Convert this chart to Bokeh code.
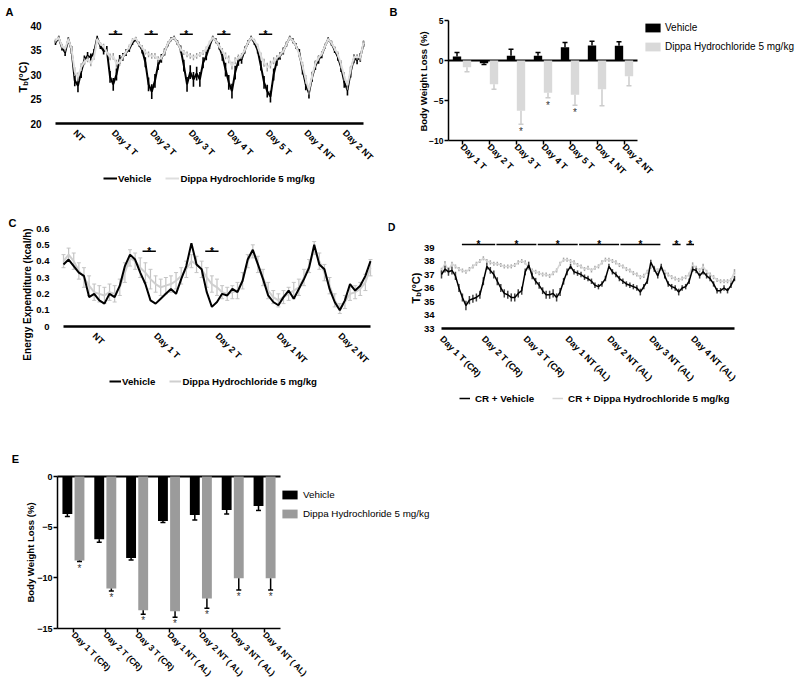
import math
from bokeh.plotting import figure
from bokeh.models import (Range1d, FixedTicker, Label, Legend, LegendItem, ColumnDataSource)
from bokeh.transform import dodge
from bokeh.layouts import column, row
from bokeh.embed import file_html
from bokeh.resources import INLINE
from bokeh.core.properties import value

FONT = "Liberation Sans"

# ---------------- Panel A data (body temperature, 2 h samples) ----------------
A_HOURS = list(range(0, 193, 2))
A_VEH = [36.5, 37.5, 35.5, 34.5, 37.2, 35.0, 28.8, 27.7, 30.5, 33.0, 33.8, 33.5,
         34.5, 37.5, 35.8, 34.8, 35.0, 29.5, 28.0, 30.0, 33.1, 33.6, 34.5, 35.2,
         36.5, 37.2, 36.2, 35.0, 32.5, 28.0, 26.5, 28.7, 32.0, 33.3, 34.6, 36.2,
         37.2, 37.5, 36.5, 35.2, 31.8, 28.0, 30.5, 29.0, 30.2, 29.0, 32.4, 33.8,
         35.8, 37.5, 36.9, 35.8, 33.8, 31.0, 28.4, 26.6, 30.4, 32.8, 33.1, 35.0,
         36.5, 37.5, 36.5, 35.0, 31.8, 28.4, 26.6, 25.5, 30.0, 32.8, 33.8, 34.8,
         36.2, 37.5, 36.9, 35.8, 34.4, 31.0, 28.0, 26.2, 29.5, 31.8, 33.0, 34.0,
         35.8, 37.2, 36.4, 35.0, 33.6, 31.5, 28.5, 26.8, 30.5, 33.2, 33.0, 33.5,
         36.2]
A_VEH_SEM = [0.5, 0.4, 0.6, 0.7, 0.4, 0.8, 1.2, 1.3, 1.2, 0.9, 0.8, 0.8,
             0.7, 0.4, 0.6, 0.7, 0.8, 1.2, 1.3, 1.2, 0.9, 0.8, 0.7, 0.6,
             0.5, 0.4, 0.5, 0.7, 1.0, 1.4, 1.5, 1.4, 1.1, 0.9, 0.7, 0.5,
             0.4, 0.4, 0.5, 0.7, 1.2, 1.5, 1.4, 1.5, 1.4, 1.5, 1.1, 0.9,
             0.6, 0.4, 0.5, 0.7, 1.0, 1.4, 1.5, 1.5, 1.4, 1.0, 0.9, 0.7,
             0.5, 0.4, 0.5, 0.7, 1.0, 1.3, 1.3, 1.2, 1.2, 1.0, 0.8, 0.7,
             0.5, 0.4, 0.5, 0.6, 0.8, 1.0, 1.2, 1.1, 1.0, 0.9, 0.8, 0.7,
             0.5, 0.4, 0.5, 0.6, 0.8, 1.0, 1.2, 1.1, 1.1, 0.9, 0.9, 0.9,
             0.6]
A_DIP = [36.9, 37.5, 35.8, 35.2, 37.2, 35.2, 30.6, 29.5, 31.5, 32.6, 33.1, 32.3,
         33.5, 37.2, 36.2, 35.8, 34.5, 33.6, 33.7, 32.2, 32.5, 33.6, 34.6, 35.6,
         37.0, 37.4, 36.2, 35.5, 34.6, 34.1, 33.8, 33.8, 33.1, 33.4, 34.6, 36.3,
         37.2, 37.5, 36.5, 35.2, 34.5, 34.1, 33.8, 33.5, 33.8, 34.1, 34.5, 35.2,
         36.5, 37.5, 36.9, 35.8, 34.8, 33.8, 33.1, 31.8, 32.8, 33.5, 33.8, 35.0,
         36.5, 37.5, 36.9, 35.8, 33.8, 32.4, 31.5, 32.0, 32.8, 33.4, 34.0, 34.8,
         36.2, 37.5, 36.9, 35.8, 34.0, 31.8, 29.0, 26.8, 29.8, 32.2, 33.4, 34.2,
         35.8, 37.2, 36.5, 35.3, 34.1, 32.1, 29.6, 27.8, 31.0, 33.5, 33.6, 33.4,
         36.5]
A_DIP_SEM = [0.4, 0.3, 0.5, 0.5, 0.3, 0.6, 0.9, 0.9, 0.8, 0.7, 0.6, 0.6,
             0.5, 0.3, 0.4, 0.5, 0.6, 0.7, 0.7, 0.8, 0.7, 0.6, 0.5, 0.5,
             0.4, 0.3, 0.4, 0.5, 0.5, 0.6, 0.6, 0.6, 0.6, 0.5, 0.5, 0.4,
             0.3, 0.3, 0.4, 0.5, 0.5, 0.6, 0.6, 0.6, 0.6, 0.5, 0.5, 0.5,
             0.4, 0.3, 0.4, 0.5, 0.6, 0.7, 0.8, 0.8, 0.7, 0.6, 0.6, 0.5,
             0.4, 0.3, 0.4, 0.5, 0.7, 0.8, 0.9, 0.8, 0.7, 0.6, 0.6, 0.5,
             0.4, 0.3, 0.4, 0.5, 0.6, 0.8, 0.9, 0.9, 0.8, 0.7, 0.6, 0.5,
             0.4, 0.3, 0.4, 0.5, 0.6, 0.8, 0.9, 0.9, 0.8, 0.7, 0.6, 0.6,
             0.5]
A_TICKS = [12, 36, 60, 84, 108, 132, 156, 180]
A_LABELS = ["NT", "Day 1 T", "Day 2 T", "Day 3 T", "Day 4 T", "Day 5 T", "Day 1 NT", "Day 2 NT"]
A_YTICKS = [20, 25, 30, 35, 40]
A_SIG_START = [33.2, 55.5, 77.5, 100.8, 126.8]
A_SIG_END = [41.6, 63.8, 85.6, 109.1, 135.1]
A_SIG_Y = [38.2, 38.2, 38.2, 38.2, 38.2]

# ---------------- Panel B data (body weight loss) ----------------
B_CATS = ["Day 1 T", "Day 2 T", "Day 3 T", "Day 4 T", "Day 5 T", "Day 1 NT", "Day 2 NT"]
B_VEH = [0.5, -0.33, 0.58, 0.58, 1.67, 1.88, 1.83]
B_VEH_ERR = [1.0, -0.5, 1.42, 1.0, 2.25, 2.42, 2.33]
B_DIP = [-0.83, -2.96, -6.29, -4.04, -4.29, -3.58, -1.96]
B_DIP_ERR = [-1.42, -3.58, -7.96, -4.67, -5.58, -5.67, -3.17]
B_SIG = ["Day 3 T", "Day 4 T", "Day 5 T"]
B_YTICKS = [-10, -5, 0, 5]

# ---------------- Panel C data (energy expenditure, 2 h samples) ----------------
C_HOURS = list(range(0, 121, 2))
C_VEH = [0.38, 0.41, 0.37, 0.33, 0.31, 0.18, 0.20, 0.16, 0.14, 0.20, 0.18, 0.25,
         0.37, 0.44, 0.41, 0.33, 0.26, 0.16, 0.14, 0.17, 0.20, 0.23, 0.20, 0.29,
         0.37, 0.51, 0.38, 0.35, 0.21, 0.12, 0.15, 0.20, 0.19, 0.23, 0.21, 0.28,
         0.41, 0.47, 0.38, 0.29, 0.19, 0.15, 0.13, 0.18, 0.22, 0.17, 0.23, 0.29,
         0.36, 0.50, 0.38, 0.35, 0.23, 0.15, 0.10, 0.16, 0.26, 0.22, 0.25, 0.31,
         0.40]
C_DIP = [0.40, 0.44, 0.40, 0.34, 0.30, 0.25, 0.21, 0.20, 0.19, 0.21, 0.20, 0.24,
         0.33, 0.42, 0.40, 0.36, 0.33, 0.29, 0.26, 0.24, 0.25, 0.26, 0.28, 0.31,
         0.35, 0.40, 0.38, 0.35, 0.30, 0.26, 0.24, 0.21, 0.20, 0.21, 0.22, 0.28,
         0.40, 0.46, 0.38, 0.30, 0.22, 0.18, 0.16, 0.18, 0.20, 0.22, 0.24, 0.30,
         0.37, 0.48, 0.40, 0.33, 0.25, 0.16, 0.11, 0.15, 0.20, 0.21, 0.23, 0.27,
         0.36]
C_DIP_SEM = [0.04, 0.04, 0.05, 0.05, 0.06, 0.06, 0.05, 0.05, 0.05, 0.05, 0.05, 0.05,
             0.06, 0.05, 0.05, 0.06, 0.06, 0.06, 0.05, 0.05, 0.05, 0.05, 0.05, 0.05,
             0.05, 0.04, 0.05, 0.05, 0.06, 0.05, 0.05, 0.04, 0.04, 0.04, 0.05, 0.05,
             0.04, 0.04, 0.05, 0.05, 0.05, 0.04, 0.04, 0.04, 0.04, 0.05, 0.05, 0.05,
             0.04, 0.04, 0.05, 0.05, 0.05, 0.04, 0.03, 0.04, 0.04, 0.04, 0.04, 0.05,
             0.05]
C_TICKS = [12, 36, 60, 84, 108]
C_LABELS = ["NT", "Day 1 T", "Day 2 T", "Day 1 NT", "Day 2 NT"]
C_YTICKS = [0, 0.1, 0.2, 0.3, 0.4, 0.5, 0.6]
C_SIG_START = [30.9, 55.4]
C_SIG_END = [36.1, 60.6]
C_SIG_Y = [0.46, 0.46]

# ---------------- Panel D data (body temperature under CR, 2 h samples) ----------------
D_HOURS = list(range(0, 169, 2))
D_VEH = [37.0, 37.4, 37.2, 37.3, 36.9, 36.0, 35.3, 34.7, 35.1, 35.2, 35.3, 35.5,
         36.5, 37.6, 37.3, 37.0, 36.5, 36.0, 35.6, 35.5, 35.3, 35.3, 35.6, 35.8,
         37.2, 37.7, 36.9, 36.5, 36.2, 35.8, 35.5, 35.5, 35.6, 35.3, 35.7, 36.5,
         37.2, 37.6, 37.2, 37.1, 37.0, 36.8, 36.7, 36.5, 36.2, 36.1, 36.3, 36.7,
         37.6, 37.2, 37.0, 36.7, 36.5, 36.3, 36.2, 36.1, 36.0, 35.7, 36.1, 36.5,
         37.9, 37.4, 36.9, 37.6, 36.9, 36.3, 36.1, 36.0, 35.7, 36.0, 36.1, 36.5,
         37.4, 37.3, 36.9, 37.2, 36.9, 36.7, 36.3, 35.8, 35.8, 36.0, 35.8, 36.2,
         36.7]
D_VEH_SEM = [0.30, 0.25, 0.30, 0.30, 0.30, 0.30, 0.30, 0.35, 0.30, 0.30, 0.30, 0.30,
             0.30, 0.25, 0.25, 0.30, 0.30, 0.30, 0.30, 0.30, 0.30, 0.30, 0.30, 0.30,
             0.25, 0.25, 0.25, 0.25, 0.25, 0.25, 0.30, 0.30, 0.30, 0.30, 0.30, 0.25,
             0.25, 0.20, 0.20, 0.20, 0.20, 0.20, 0.20, 0.20, 0.20, 0.20, 0.20, 0.20,
             0.20, 0.20, 0.20, 0.20, 0.20, 0.20, 0.20, 0.20, 0.20, 0.25, 0.20, 0.20,
             0.20, 0.20, 0.20, 0.20, 0.20, 0.20, 0.20, 0.20, 0.25, 0.20, 0.20, 0.20,
             0.20, 0.20, 0.20, 0.20, 0.20, 0.20, 0.20, 0.20, 0.20, 0.20, 0.20, 0.20,
             0.20]
D_DIP = [37.3, 37.8, 37.3, 37.8, 37.6, 37.4, 37.3, 37.2, 37.4, 37.6, 37.8, 38.0,
         38.2, 38.0, 37.9, 37.8, 37.8, 37.7, 37.6, 37.6, 37.6, 37.7, 37.9, 38.0,
         37.9, 37.5, 37.3, 37.2, 37.1, 37.0, 37.0, 36.9, 37.1, 37.3, 37.8, 38.1,
         38.1, 38.0, 37.9, 37.7, 37.6, 37.4, 37.5, 37.3, 37.5, 37.6, 37.9, 38.1,
         38.1, 38.0, 37.9, 37.7, 37.6, 37.4, 37.3, 37.1, 37.0, 36.8, 36.9, 37.2,
         37.6, 37.5, 37.3, 37.5, 37.2, 37.0, 36.8, 36.7, 36.6, 36.7, 36.8, 37.0,
         37.7, 37.5, 37.3, 37.6, 37.2, 37.0, 36.8, 36.6, 36.5, 36.5, 36.5, 36.6,
         37.2]
D_DIP_SEM = [0.20, 0.20, 0.20, 0.15, 0.15, 0.15, 0.15, 0.15, 0.15, 0.15, 0.15, 0.15,
             0.15, 0.15, 0.15, 0.15, 0.15, 0.15, 0.15, 0.15, 0.15, 0.15, 0.15, 0.15,
             0.15, 0.15, 0.15, 0.15, 0.15, 0.15, 0.15, 0.15, 0.15, 0.15, 0.15, 0.15,
             0.15, 0.15, 0.15, 0.15, 0.15, 0.15, 0.15, 0.15, 0.15, 0.15, 0.15, 0.15,
             0.15, 0.15, 0.15, 0.15, 0.15, 0.15, 0.15, 0.15, 0.15, 0.15, 0.15, 0.15,
             0.20, 0.15, 0.15, 0.20, 0.15, 0.15, 0.15, 0.15, 0.15, 0.15, 0.15, 0.15,
             0.20, 0.15, 0.15, 0.20, 0.15, 0.15, 0.15, 0.15, 0.15, 0.15, 0.15, 0.15,
             0.20]
D_TICKS = [0, 24, 48, 72, 96, 120, 144]
D_LABELS = ["Day 1 T (CR)", "Day 2 T (CR)", "Day 3 T (CR)", "Day 1 NT (AL)",
            "Day 2 NT (AL)", "Day 3 NT (AL)", "Day 4 NT (AL)"]
D_YTICKS = [33, 34, 35, 36, 37, 38, 39]
D_SIG_START = [11.7, 31.5, 55.2, 78.9, 102.6, 132.4, 140.4]
D_SIG_END = [30.8, 54.4, 78.1, 101.8, 125.5, 137.1, 144.8]
D_SIG_Y = [39.22, 39.22, 39.22, 39.22, 39.22, 39.22, 39.22]

# ---------------- Panel E data (body weight loss under CR) ----------------
E_CATS = ["Day 1 T (CR)", "Day 2 T (CR)", "Day 3 T (CR)", "Day 1 NT ( AL)",
          "Day 2 NT ( AL)", "Day 3 NT ( AL)", "Day 4 NT ( AL)"]
E_VEH = [-3.7, -6.2, -8.05, -4.4, -3.8, -3.3, -2.9]
E_VEH_ERR = [-3.95, -6.5, -8.25, -4.55, -4.3, -3.7, -3.35]
E_DIP = [-8.3, -11.05, -13.2, -13.3, -12.05, -10.05, -10.05]
E_DIP_ERR = [-8.4, -11.3, -13.6, -13.9, -13.0, -11.2, -11.2]
E_YTICKS = [-15, -10, -5, 0]

for a, b in [(A_HOURS, A_VEH), (A_HOURS, A_VEH_SEM), (A_HOURS, A_DIP), (A_HOURS, A_DIP_SEM),
             (C_HOURS, C_VEH), (C_HOURS, C_DIP), (C_HOURS, C_DIP_SEM),
             (D_HOURS, D_VEH), (D_HOURS, D_VEH_SEM), (D_HOURS, D_DIP), (D_HOURS, D_DIP_SEM)]:
    assert len(a) == len(b), (len(a), len(b))

BOX = {}


# ---------------- helpers ----------------
def span_range(d0, d1, p0, p1, f0, f1):
    """Range whose value d0 falls on page pixel p0 and d1 on p1, for a frame running f0..f1."""
    k = (d1 - d0) / (p1 - p0)
    return Range1d(d0 - (p0 - f0) * k, d1 + (f1 - p1) * k)


def make_fig(box, xmap, ymap):
    fx0, fy0, fx1, fy1 = box
    p = figure(width=fx1 - fx0, height=fy1 - fy0,
               x_range=span_range(*xmap, fx0, fx1),
               y_range=span_range(*ymap, fy1, fy0),
               min_border=0, output_backend="svg", toolbar_location=None, title=None)
    p.grid.visible = False
    p.outline_line_color = None
    p.background_fill_color = "white"
    p.border_fill_color = "white"
    for ax in p.axis:
        ax.major_label_text_font = FONT
        ax.major_label_text_font_style = "bold"
        ax.major_label_text_color = "black"
        ax.minor_tick_line_color = None
    BOX[p.id] = box
    return p


def note(p, xi, yi, text, size="11px", bold=True, angle=0.0, align="center", baseline="middle"):
    fx0, fy0, fx1, fy1 = BOX[p.id]
    p.add_layout(Label(x=xi - fx0, y=fy1 - yi, x_units="screen", y_units="screen",
                       text=text, angle=angle, text_align=align, text_baseline=baseline,
                       text_font=FONT, text_font_size=size,
                       text_font_style="bold" if bold else "normal", text_color="black"))


def add_legend(p, items, left_px, bottom_px, size, bold, gw, gh, standoff, spacing, orientation):
    fx0, fy0, fx1, fy1 = BOX[p.id]
    lg = Legend(items=[LegendItem(label=value(t), renderers=[r]) for t, r in items],
                location=(left_px - fx0, fy1 - bottom_px), orientation=orientation,
                padding=0, margin=0, spacing=spacing, label_standoff=standoff,
                glyph_width=gw, glyph_height=gh, label_height=gh, label_width=10,
                label_text_font=FONT, label_text_font_size=size,
                label_text_font_style="bold" if bold else "normal",
                label_text_color="black",
                border_line_color=None, background_fill_alpha=0)
    p.add_layout(lg)


def ts_axes(p, ticks, labels, yticks, xbounds, ybounds, xsize="9px", ysize="10px",
            ystandoff=6, xstandoff=2):
    xa, ya = p.xaxis[0], p.yaxis[0]
    xa.fixed_location = ybounds[0]
    xa.bounds = xbounds
    xa.ticker = FixedTicker(ticks=ticks)
    xa.major_label_overrides = dict(zip(ticks, labels))
    xa.major_label_orientation = -math.pi / 4
    xa.axis_line_width = 2.5
    xa.axis_line_color = "black"
    xa.major_tick_line_color = None
    xa.major_label_text_font_size = xsize
    xa.major_label_standoff = xstandoff
    ya.fixed_location = xbounds[0]
    ya.bounds = ybounds
    ya.ticker = FixedTicker(ticks=yticks)
    ya.axis_line_color = None
    ya.major_tick_line_color = None
    ya.major_label_text_font_size = ysize
    ya.major_label_standoff = ystandoff


def bar_axes(p, ncat, labels, yticks, ybounds, xsize, ysize):
    xa, ya = p.xaxis[0], p.yaxis[0]
    xb = (0.5, ncat + 0.5)
    xa.fixed_location = ybounds[0]
    xa.bounds = xb
    xa.ticker = FixedTicker(ticks=list(range(1, ncat + 1)))
    xa.major_label_overrides = dict(zip(range(1, ncat + 1), labels))
    xa.major_label_orientation = -math.pi / 4
    xa.major_label_text_font_size = xsize
    xa.major_label_standoff = 1
    ya.fixed_location = xb[0]
    ya.bounds = ybounds
    ya.ticker = FixedTicker(ticks=yticks)
    ya.major_label_text_font_size = ysize
    ya.major_label_standoff = 1
    for ax in (xa, ya):
        ax.axis_line_width = 1.5
        ax.axis_line_color = "black"
        ax.major_tick_line_width = 1.5
        ax.major_tick_line_color = "black"
        ax.major_tick_out = 4
        ax.major_tick_in = 0
    # heavy zero line across the category band
    p.segment(x0=[xb[0]], x1=[xb[1]], y0=[0], y1=[0], line_color="black", line_width=2)


def sig_marks(p, starts, ends, ys):
    p.segment(x0=starts, x1=ends, y0=ys, y1=ys, line_color="black", line_width=1.5)
    mids = [(s + e) / 2 for s, e in zip(starts, ends)]
    p.text(x=mids, y=ys, text=value("*"), text_font=value(FONT),
           text_font_size=value("10px"), text_font_style="bold",
           text_align="center", text_baseline="middle", text_color="black")


def band(vals, sems, sign):
    return [v + sign * s for v, s in zip(vals, sems)]


# ---------------- Panel A ----------------
pA = make_fig((0, 0, 388, 200), (0, 192, 55, 363), (20, 40, 123, 25))
ts_axes(pA, A_TICKS, A_LABELS, A_YTICKS, (0, 192), (20, 40), ystandoff=8)
pA.segment(x0=A_HOURS, x1=A_HOURS, y0=band(A_VEH, A_VEH_SEM, -1), y1=band(A_VEH, A_VEH_SEM, 1),
           line_color="black", line_width=1.6)
rA_veh = pA.line(A_HOURS, A_VEH, line_color="black", line_width=2)
pA.segment(x0=A_HOURS, x1=A_HOURS, y0=band(A_DIP, A_DIP_SEM, -1), y1=band(A_DIP, A_DIP_SEM, 1),
           line_color="#9a9a9a", line_width=1.4)
rA_dip = pA.line(A_HOURS, A_DIP, line_color="#dedede", line_width=2)
sig_marks(pA, A_SIG_START, A_SIG_END, A_SIG_Y)
note(pA, 9, 11, "A")
note(pA, 22, 92, "T", angle=math.pi / 2, align="left")
note(pA, 25, 85.3, "b", size="7.5px", angle=math.pi / 2, align="left")
note(pA, 22, 80.8, "(°C)", angle=math.pi / 2, align="left")
add_legend(pA, [("Vehicle", rA_veh), ("Dippa Hydrochloride 5 mg/kg", rA_dip)],
           103, 184, "9.7px", True, 14, 12, 1, 14, "horizontal")

# ---------------- Panel B ----------------
nB = len(B_CATS)
pB = make_fig((388, 0, 800, 200), (0.5, nB + 0.5, 448, 637), (-10, 5, 140, 20))
bar_axes(pB, nB, B_CATS, B_YTICKS, (-10, 5), "9px", "8.5px")
srcB = ColumnDataSource(dict(x=list(range(1, nB + 1)), veh=B_VEH, veh_err=B_VEH_ERR,
                             dip=B_DIP, dip_err=B_DIP_ERR))
xv = dodge("x", -0.185)
xd = dodge("x", 0.185)
rB_veh = pB.vbar(x=xv, top="veh", bottom=0, width=0.31, source=srcB, fill_color="black", line_color=None)
rB_dip = pB.vbar(x=xd, top="dip", bottom=0, width=0.31, source=srcB, fill_color="#d9d9d9", line_color=None)
pB.segment(x0=xv, x1=xv, y0="veh", y1="veh_err", source=srcB, line_color="black", line_width=1.5)
pB.scatter(x=xv, y="veh_err", marker="dash", size=5, source=srcB, line_color="black", line_width=1.5)
pB.segment(x0=xd, x1=xd, y0="dip", y1="dip_err", source=srcB, line_color="#cccccc", line_width=1.5)
pB.scatter(x=xd, y="dip_err", marker="dash", size=5, source=srcB, line_color="#cccccc", line_width=1.5)
srcBs = ColumnDataSource(dict(x=[B_CATS.index(c) + 1 for c in B_SIG],
                              y=[B_DIP_ERR[B_CATS.index(c)] for c in B_SIG]))
pB.text(x=dodge("x", 0.185), y="y", source=srcBs, text=value("*"),
        text_font=value(FONT), text_font_size=value("10px"), text_align="center",
        text_baseline="top", y_offset=2, text_color="#333333")
note(pB, 393, 11, "B")
note(pB, 423, 81, "Body Weight Loss (%)", size="9.5px", angle=math.pi / 2)
add_legend(pB, [("Vehicle", rB_veh), ("Dippa Hydrochloride 5 mg/kg", rB_dip)],
           643, 52, "10px", False, 19, 11, 3, 8, "vertical")

# ---------------- Panel C ----------------
pC = make_fig((0, 200, 388, 410), (0, 120, 63, 370), (0, 0.6, 326, 228))
ts_axes(pC, C_TICKS, C_LABELS, C_YTICKS, (0, 120), (0, 0.6), ysize="9.5px", ystandoff=8)
pC.yaxis[0].major_label_overrides = {0: "0"}
lo = band(C_DIP, C_DIP_SEM, -1)
hi = band(C_DIP, C_DIP_SEM, 1)
pC.segment(x0=C_HOURS, x1=C_HOURS, y0=lo, y1=hi, line_color="#c4c4c4", line_width=1.2)
pC.scatter(x=C_HOURS, y=lo, marker="dash", size=4, line_color="#c4c4c4", line_width=1)
pC.scatter(x=C_HOURS, y=hi, marker="dash", size=4, line_color="#c4c4c4", line_width=1)
rC_dip = pC.line(C_HOURS, C_DIP, line_color="#cfcfcf", line_width=2)
rC_veh = pC.line(C_HOURS, C_VEH, line_color="black", line_width=2)
sig_marks(pC, C_SIG_START, C_SIG_END, C_SIG_Y)
note(pC, 12, 222, "C")
note(pC, 27, 294, "Energy Expenditure (kcal/h)", size="10px", angle=math.pi / 2)
add_legend(pC, [("Vehicle", rC_veh), ("Dippa Hydrochloride 5 mg/kg", rC_dip)],
           109, 387, "9.7px", True, 12, 12, 1, 14, "horizontal")

# ---------------- Panel D ----------------
pD = make_fig((388, 200, 800, 410), (0, 168, 441, 734), (33, 39, 328, 247))
ts_axes(pD, D_TICKS, D_LABELS, D_YTICKS, (0, 168), (33, 39), ysize="9.5px", ystandoff=1, xstandoff=3)
pD.segment(x0=D_HOURS, x1=D_HOURS, y0=band(D_DIP, D_DIP_SEM, -1), y1=band(D_DIP, D_DIP_SEM, 1),
           line_color="#a5a5a5", line_width=1.5)
rD_dip = pD.line(D_HOURS, D_DIP, line_color="#d6d6d6", line_width=1.5)
pD.segment(x0=D_HOURS, x1=D_HOURS, y0=band(D_VEH, D_VEH_SEM, -1), y1=band(D_VEH, D_VEH_SEM, 1),
           line_color="#444444", line_width=1.5)
rD_veh = pD.line(D_HOURS, D_VEH, line_color="black", line_width=1.5)
sig_marks(pD, D_SIG_START, D_SIG_END, D_SIG_Y)
note(pD, 391, 226, "D")
note(pD, 415, 303, "T", angle=math.pi / 2, align="left")
note(pD, 418, 296.3, "b", size="7.5px", angle=math.pi / 2, align="left")
note(pD, 415, 291.7, " (°C)", angle=math.pi / 2, align="left")
add_legend(pD, [("CR + Vehicle", rD_veh), ("CR + Dippa Hydrochloride 5 mg/kg", rD_dip)],
           459, 404, "9.8px", True, 11, 12, 5, 18, "horizontal")

# ---------------- Panel E ----------------
nE = len(E_CATS)
pE = make_fig((0, 410, 800, 684), (0.5, nE + 0.5, 57, 280), (-15, 0, 628, 476))
bar_axes(pE, nE, E_CATS, E_YTICKS, (-15, 0), "8.5px", "9px")
srcE = ColumnDataSource(dict(x=list(range(1, nE + 1)), veh=E_VEH, veh_err=E_VEH_ERR,
                             dip=E_DIP, dip_err=E_DIP_ERR))
ev = dodge("x", -0.19)
ed = dodge("x", 0.19)
rE_veh = pE.vbar(x=ev, top=0, bottom="veh", width=0.31, source=srcE, fill_color="black", line_color=None)
rE_dip = pE.vbar(x=ed, top=0, bottom="dip", width=0.31, source=srcE, fill_color="#9b9b9b", line_color=None)
pE.segment(x0=ev, x1=ev, y0="veh", y1="veh_err", source=srcE, line_color="black", line_width=1.5)
pE.scatter(x=ev, y="veh_err", marker="dash", size=5, source=srcE, line_color="black", line_width=1.5)
pE.segment(x0=ed, x1=ed, y0="dip", y1="dip_err", source=srcE, line_color="black", line_width=1.5)
pE.scatter(x=ed, y="dip_err", marker="dash", size=5, source=srcE, line_color="black", line_width=1.5)
pE.text(x=ed, y="dip_err", source=srcE, text=value("*"), text_font=value(FONT),
        text_font_size=value("10px"), text_align="center", text_baseline="top",
        y_offset=1, text_color="#333333")
note(pE, 15, 458, "E")
note(pE, 30, 552, "Body Weight Loss (%)", size="9.5px", angle=math.pi / 2)
add_legend(pE, [("Vehicle", rE_veh), ("Dippa Hydrochloride 5 mg/kg", rE_dip)],
           280, 518.5, "9.8px", False, 19, 11, 4, 8, "vertical")

layout = column(row(pA, pB), row(pC, pD), pE)
open("out.html", "w").write(file_html(layout, INLINE))
